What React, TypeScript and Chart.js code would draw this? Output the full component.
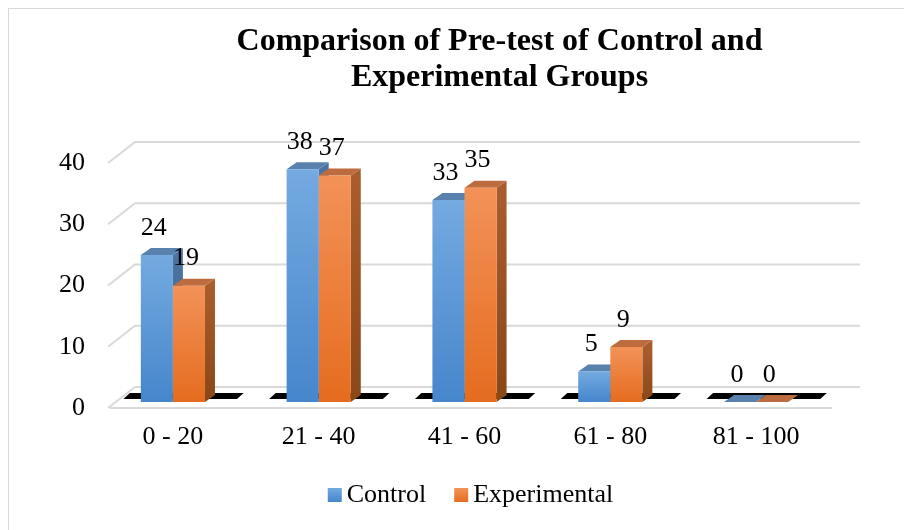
import React, { useEffect, useRef } from 'react';
import { Chart, registerables } from 'chart.js';

Chart.register(...registerables);

const categories = ['0 - 20', '21 - 40', '41 - 60', '61 - 80', '81 - 100'];
const controlValues = [24, 38, 33, 5, 0];
const experimentalValues = [19, 37, 35, 9, 0];
const yTicks = [0, 10, 20, 30, 40];
const seriesNames = ['Control', 'Experimental'];
const titleLines = ['Comparison of Pre-test of Control and', 'Experimental Groups'];

const FONT = "'Liberation Serif', 'Times New Roman', serif";
const BAR_DEPTH = { dx: 10, dy: 7 };

const palette = [
  { front: ['#74aae0', '#4686cc'], top: '#5882ad', side: ['#4d74a0', '#3c6290'], legend: '#5b9bd5' },
  { front: ['#f39258', '#e56c1f'], top: '#bd6c40', side: ['#aa5d2c', '#8a4718'], legend: '#ed7d31' },
];

function frontFill(di: number) {
  return (c: any) => {
    const ys = c.chart.scales && c.chart.scales.y;
    if (!ys || c.raw == null) return palette[di].front[1];
    const top = ys.getPixelForValue(c.raw);
    const bottom = ys.getPixelForValue(0);
    if (!isFinite(top) || !isFinite(bottom) || bottom - top < 1) return palette[di].front[1];
    const g = c.chart.ctx.createLinearGradient(0, top, 0, bottom);
    g.addColorStop(0, palette[di].front[0]);
    g.addColorStop(1, palette[di].front[1]);
    return g;
  };
}

const backdrop = {
  id: 'backdrop3d',
  beforeDatasetsDraw(chart: any) {
    const ctx = chart.ctx;
    const { left, right } = chart.chartArea;
    const xs = chart.scales.x;
    const ys = chart.scales.y;
    ctx.save();
    // back wall gridlines with left depth edge
    ctx.strokeStyle = '#d9d9d9';
    ctx.lineWidth = 2;
    yTicks.forEach((v) => {
      const yb = ys.getPixelForValue(v);
      ctx.beginPath();
      ctx.moveTo(left + 8, yb + 6);
      ctx.lineTo(left + 35, yb - 15);
      ctx.lineTo(right + 31, yb - 15);
      ctx.stroke();
    });
    const y0 = ys.getPixelForValue(0);
    ctx.beginPath();
    ctx.moveTo(left + 10, y0 + 6);
    ctx.lineTo(right + 3, y0 + 6);
    ctx.stroke();

    // black floor strips
    const w = xs.width / categories.length;
    ctx.fillStyle = '#000';
    categories.forEach((_, i) => {
      const c = xs.getPixelForValue(i);
      ctx.beginPath();
      ctx.moveTo(c - 0.34 * w, y0 - 3);
      ctx.lineTo(c + 0.44 * w, y0 - 3);
      ctx.lineTo(c + 0.485 * w, y0 - 9);
      ctx.lineTo(c - 0.295 * w, y0 - 9);
      ctx.closePath();
      ctx.fill();
    });

    // side and top faces of bars
    const n = chart.data.labels.length;
    for (let i = 0; i < n; i++) {
      chart.data.datasets.forEach((_: any, di: number) => {
        const bar: any = chart.getDatasetMeta(di).data[i];
        if (!bar) return;
        const p = bar.getProps(['x', 'y', 'base', 'width'], true);
        const L = p.x - p.width / 2;
        const R = p.x + p.width / 2;
        const T = p.y;
        const B = p.base;
        const { dx, dy } = BAR_DEPTH;
        if (B - T > 0.5) {
          const sg = ctx.createLinearGradient(0, T, 0, B);
          sg.addColorStop(0, palette[di].side[0]);
          sg.addColorStop(1, palette[di].side[1]);
          ctx.fillStyle = sg;
          ctx.beginPath();
          ctx.moveTo(R, T);
          ctx.lineTo(R + dx, T - dy);
          ctx.lineTo(R + dx, B - dy);
          ctx.lineTo(R, B);
          ctx.closePath();
          ctx.fill();
        }
        ctx.fillStyle = palette[di].top;
        ctx.beginPath();
        ctx.moveTo(L, T);
        ctx.lineTo(L + dx, T - dy);
        ctx.lineTo(R + dx, T - dy);
        ctx.lineTo(R, T);
        ctx.closePath();
        ctx.fill();
      });
    }
    ctx.restore();
  },
  afterDatasetsDraw(chart: any) {
    const ctx = chart.ctx;
    const { left, right } = chart.chartArea;
    const xs = chart.scales.x;
    const ys = chart.scales.y;
    const y0 = ys.getPixelForValue(0);
    ctx.save();
    ctx.fillStyle = '#000';

    // y tick labels on the front plane
    ctx.font = `26px ${FONT}`;
    ctx.textAlign = 'right';
    ctx.textBaseline = 'middle';
    yTicks.forEach((v) => {
      ctx.fillText(String(v), left - 15, ys.getPixelForValue(v) + 6);
    });

    // category labels
    ctx.textAlign = 'center';
    categories.forEach((lab, i) => {
      ctx.fillText(lab, xs.getPixelForValue(i), y0 + 35);
    });

    // data labels
    chart.data.datasets.forEach((ds: any, di: number) => {
      chart.getDatasetMeta(di).data.forEach((bar: any, i: number) => {
        const p = bar.getProps(['x', 'y'], true);
        ctx.fillText(String(ds.data[i]), p.x - 3, p.y - 27);
      });
    });

    // title
    const cx = (left + right) / 2;
    ctx.font = `bold 32px ${FONT}`;
    ctx.textBaseline = 'alphabetic';
    ctx.fillText(titleLines[0], cx + 35, 41);
    ctx.fillText(titleLines[1], cx + 35, 77);

    // legend
    ctx.font = `26px ${FONT}`;
    const box = 14, gapText = 5, gapItem = 28;
    const widths = chart.data.datasets.map((d: any) => ctx.measureText(d.label).width);
    const total = widths.reduce((a: number, b: number) => a + b, 0) + chart.data.datasets.length * (box + gapText) + gapItem * (chart.data.datasets.length - 1);
    let lx = cx + 6 - total / 2;
    const baseY = chart.height - 28;
    ctx.textAlign = 'left';
    chart.data.datasets.forEach((d: any, di: number) => {
      const g = ctx.createLinearGradient(0, baseY - 14, 0, baseY);
      g.addColorStop(0, palette[di].front[0]);
      g.addColorStop(1, palette[di].front[1]);
      ctx.fillStyle = g;
      ctx.fillRect(lx, baseY - 14, box, box);
      ctx.fillStyle = '#000';
      ctx.fillText(d.label, lx + box + gapText, baseY);
      lx += box + gapText + widths[di] + gapItem;
    });
    ctx.restore();
  },
};

export default function App() {
  const ref = useRef<HTMLCanvasElement>(null);
  useEffect(() => {
    const chart = new Chart(ref.current as HTMLCanvasElement, {
      type: 'bar',
      data: {
        labels: categories,
        datasets: [
          { label: seriesNames[0], data: controlValues, backgroundColor: frontFill(0), borderWidth: 0, barPercentage: 1, categoryPercentage: 0.44 },
          { label: seriesNames[1], data: experimentalValues, backgroundColor: frontFill(1), borderWidth: 0, barPercentage: 1, categoryPercentage: 0.44 },
        ],
      },
      options: {
        animation: false,
        responsive: false,
        devicePixelRatio: 1,
        layout: { padding: { left: 91, right: 83, top: 148, bottom: 128 } },
        scales: {
          x: { display: false, grid: { display: false } },
          y: { display: false, min: 0, max: 40, grid: { display: false } },
        },
        plugins: {
          legend: { display: false },
          title: { display: false },
          tooltip: { enabled: false },
        },
      },
      plugins: [backdrop],
    });
    return () => chart.destroy();
  }, []);
  return (
    <div style={{ border: '1px solid #d9d9d9', width: 903, height: 521, background: '#fff' }}>
      <style>{'html,body{overflow:hidden}'}</style>
      <canvas ref={ref} width={903} height={521} style={{ display: 'block' }} />
    </div>
  );
}
